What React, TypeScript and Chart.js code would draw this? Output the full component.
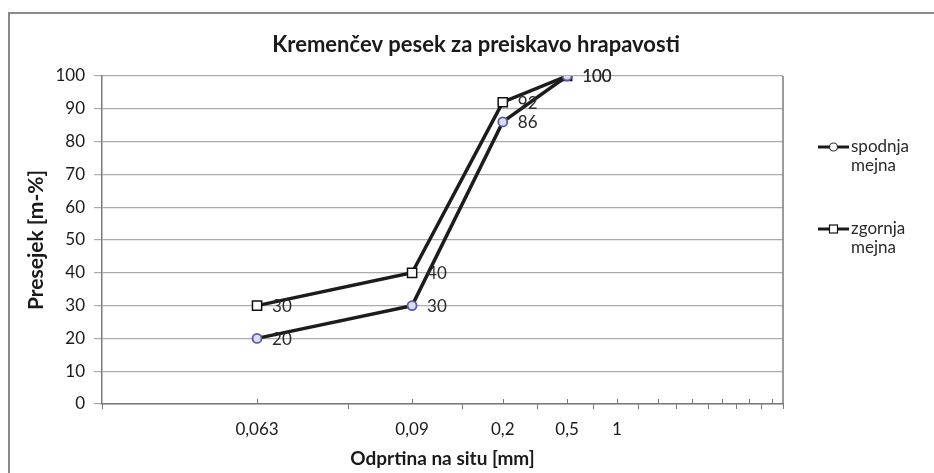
import React, { useEffect, useRef } from 'react';
import { Chart, registerables } from 'chart.js';

Chart.register(...registerables);

// ---- data ----
const chartTitle = 'Kremenčev pesek za preiskavo hrapavosti';
const xTitle = 'Odprtina na situ [mm]';
const yTitle = 'Presejek [m-%]';
const categories = ['0,063', '0,09', '0,2', '0,5', '1', '', '', '', '', ''];
const spodnjaMejna = [20, 30, 86, 100];
const zgornjaMejna = [30, 40, 92, 100];
const seriesNames = ['spodnja mejna', 'zgornja mejna'];
const yMin = 0;
const yMax = 100;
const yStep = 10;

const FONT = 'Lato, "Open Sans", sans-serif';
const TEXT = '#1a1a1a';

const toPoints = (vals: number[]) => vals.map((v, i) => ({ x: i + 1, y: v }));

const decorPlugin = {
  id: 'decor',
  beforeDraw(chart: any) {
    const { ctx, width, height } = chart;
    ctx.save();
    ctx.fillStyle = '#ffffff';
    ctx.fillRect(0, 0, width, height);
    ctx.strokeStyle = '#8a8a8a';
    ctx.lineWidth = 2;
    ctx.beginPath();
    ctx.moveTo(9, height);
    ctx.lineTo(9, 13);
    ctx.lineTo(width, 13);
    ctx.stroke();
    // title
    ctx.fillStyle = TEXT;
    ctx.font = `bold 22px ${FONT}`;
    ctx.textAlign = 'center';
    ctx.textBaseline = 'middle';
    ctx.fillText(chartTitle, 476, 45);
    ctx.restore();
  },
  afterDatasetsDraw(chart: any) {
    const { ctx, chartArea, scales } = chart;
    const xs = scales.x;
    ctx.save();
    // plot right border
    ctx.strokeStyle = '#7a7a7a';
    ctx.lineWidth = 1.5;
    ctx.beginPath();
    ctx.moveTo(chartArea.right, chartArea.top);
    ctx.lineTo(chartArea.right, chartArea.bottom);
    ctx.stroke();
    // x tick marks: category centres (inside) and boundaries (outside)
    ctx.strokeStyle = '#7a7a7a';
    ctx.lineWidth = 1;
    categories.forEach((_, i) => {
      const xc = Math.round(xs.getPixelForValue(i + 1)) + 0.5;
      ctx.beginPath();
      ctx.moveTo(xc, chartArea.bottom);
      ctx.lineTo(xc, chartArea.bottom - 5);
      ctx.stroke();
      const xb = Math.round(xs.getPixelForValue(i + 0.5)) + 0.5;
      ctx.beginPath();
      ctx.moveTo(xb, chartArea.bottom);
      ctx.lineTo(xb, chartArea.bottom + 5);
      ctx.stroke();
    });
    const xe = Math.round(xs.getPixelForValue(categories.length + 0.5)) + 0.5;
    ctx.beginPath();
    ctx.moveTo(xe, chartArea.bottom);
    ctx.lineTo(xe, chartArea.bottom + 5);
    ctx.stroke();

    // data labels
    ctx.fillStyle = '#2a2a2a';
    ctx.font = `17px ${FONT}`;
    ctx.textAlign = 'left';
    ctx.textBaseline = 'middle';
    chart.data.datasets.forEach((ds: any, di: number) => {
      const meta = chart.getDatasetMeta(di);
      meta.data.forEach((el: any, i: number) => {
        ctx.fillText(String(ds.data[i].y), el.x + 15, el.y + 1);
      });
    });

    // legend
    const lx = chartArea.right + 35;
    const tops = [147, 229];
    chart.data.datasets.forEach((ds: any, di: number) => {
      const y = tops[di];
      ctx.strokeStyle = '#1a1a1a';
      ctx.lineWidth = 3;
      ctx.beginPath();
      ctx.moveTo(lx, y);
      ctx.lineTo(lx + 31, y);
      ctx.stroke();
      ctx.lineWidth = 1.2;
      ctx.fillStyle = '#ffffff';
      if (ds.pointStyle === 'circle') {
        ctx.beginPath();
        ctx.arc(lx + 15.5, y, 4, 0, Math.PI * 2);
        ctx.fill();
        ctx.strokeStyle = '#333';
        ctx.stroke();
      } else {
        ctx.fillRect(lx + 11.5, y - 4, 8, 8);
        ctx.strokeStyle = '#111';
        ctx.strokeRect(lx + 11.5, y - 4, 8, 8);
      }
      ctx.fillStyle = '#2a2a2a';
      ctx.font = `17px ${FONT}`;
      const parts = String(ds.label).split(' ');
      parts.forEach((p, k) => ctx.fillText(p, lx + 33, y + k * 19));
    });
    ctx.restore();
  },
};

export default function App() {
  const ref = useRef<HTMLCanvasElement | null>(null);
  useEffect(() => {
    if (!ref.current) return;
    const chart = new Chart(ref.current, {
      type: 'line',
      data: {
        datasets: [
          {
            label: seriesNames[0],
            data: toPoints(spodnjaMejna),
            borderColor: '#1c1c1c',
            borderWidth: 3.5,
            pointStyle: 'circle',
            pointRadius: 4.5,
            pointBorderColor: '#5a5aaa',
            pointBackgroundColor: '#dcdcf0',
            pointBorderWidth: 1.8,
            tension: 0,
          },
          {
            label: seriesNames[1],
            data: toPoints(zgornjaMejna),
            borderColor: '#1c1c1c',
            borderWidth: 3.5,
            pointStyle: 'rect',
            pointRadius: 6.5,
            pointBorderColor: '#111111',
            pointBackgroundColor: '#ffffff',
            pointBorderWidth: 1.5,
            tension: 0,
          },
        ] as any,
      },
      options: {
        responsive: false,
        animation: false,
        devicePixelRatio: 1,
        layout: { padding: { top: 76, right: 151, left: 0, bottom: 0 } },
        plugins: {
          legend: { display: false },
          title: { display: false },
          tooltip: { enabled: false },
        },
        scales: {
          x: {
            type: 'logarithmic',
            min: 0.5,
            max: categories.length + 0.5,
            afterBuildTicks: (s: any) => {
              s.ticks = categories.map((_, i) => ({ value: i + 1 }));
            },
            afterFit: (s: any) => {
              s.height = 69;
            },
            ticks: {
              autoSkip: false,
              maxRotation: 0,
              padding: 15,
              color: TEXT,
              font: { family: FONT, size: 17 },
              callback: (v: any) => categories[Math.round(Number(v)) - 1] ?? '',
            },
            grid: { display: true, drawOnChartArea: false, drawTicks: false },
            border: { display: true, color: '#7a7a7a', width: 1.5 },
            title: {
              display: true,
              text: xTitle,
              color: TEXT,
              font: { family: FONT, size: 19, weight: 'bold' },
              padding: { top: 0, bottom: 3 },
            },
          },
          y: {
            min: yMin,
            max: yMax,
            afterFit: (s: any) => {
              s.width = 102;
            },
            ticks: {
              stepSize: yStep,
              padding: 9,
              color: TEXT,
              font: { family: FONT, size: 17 },
            },
            grid: { color: '#ababab', lineWidth: 1.2, tickLength: 8 },
            border: { display: true, color: '#7a7a7a', width: 1.5 },
            title: {
              display: true,
              text: yTitle,
              color: TEXT,
              font: { family: FONT, size: 21, weight: 'bold' },
              padding: { top: 24, bottom: 0 },
            },
          },
        } as any,
      },
      plugins: [decorPlugin],
    });
    return () => chart.destroy();
  }, []);
  return (
    <div style={{ position: 'absolute', left: 0, top: 0, width: 934, height: 473, background: '#fff' }}>
      <canvas ref={ref} width={934} height={473} style={{ display: 'block' }} />
    </div>
  );
}
